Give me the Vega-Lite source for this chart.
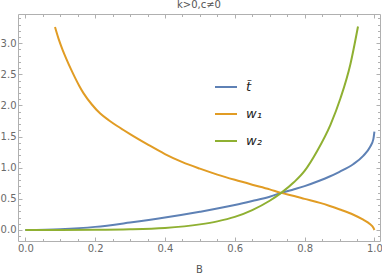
{
  "$schema": "https://vega.github.io/schema/vega-lite/v6.json",
  "width": 362,
  "height": 227,
  "autosize": {"type": "none"},
  "padding": {"left": 18, "top": 14, "right": 2, "bottom": 38},
  "title": {"text": "k>0,c≠0", "fontSize": 10, "font": "DejaVu Sans", "fontWeight": "normal", "color": "#555555", "offset": 3, "anchor": "middle"},
  "config": {
    "view": {"stroke": null},
    "axis": {
      "grid": false,
      "domainColor": "#b0b0b0",
      "tickColor": "#b0b0b0",
      "labelColor": "#6a6a6a",
      "labelFont": "DejaVu Sans",
      "labelFontSize": 10,
      "labelOverlap": false,
      "labelFlush": false,
      "titleFont": "DejaVu Sans",
      "titleFontSize": 10,
      "titleFontWeight": "normal",
      "titleColor": "#555555"
    }
  },
  "data": {"values": [
    {"s": "t̃", "B": 0.0, "v": 0.0},
    {"s": "t̃", "B": 0.1, "v": 0.013},
    {"s": "t̃", "B": 0.2, "v": 0.05},
    {"s": "t̃", "B": 0.3, "v": 0.12},
    {"s": "t̃", "B": 0.4, "v": 0.2},
    {"s": "t̃", "B": 0.5, "v": 0.293},
    {"s": "t̃", "B": 0.6, "v": 0.4},
    {"s": "t̃", "B": 0.65, "v": 0.465},
    {"s": "t̃", "B": 0.7, "v": 0.535},
    {"s": "t̃", "B": 0.733, "v": 0.596},
    {"s": "t̃", "B": 0.77, "v": 0.655},
    {"s": "t̃", "B": 0.8, "v": 0.705},
    {"s": "t̃", "B": 0.844, "v": 0.795},
    {"s": "t̃", "B": 0.87, "v": 0.855},
    {"s": "t̃", "B": 0.9, "v": 0.935},
    {"s": "t̃", "B": 0.94, "v": 1.06},
    {"s": "t̃", "B": 0.968, "v": 1.19},
    {"s": "t̃", "B": 0.987, "v": 1.33},
    {"s": "t̃", "B": 0.997, "v": 1.46},
    {"s": "t̃", "B": 1.0, "v": 1.58},
    {"s": "w₁", "B": 0.085, "v": 3.26},
    {"s": "w₁", "B": 0.0953, "v": 3.07},
    {"s": "w₁", "B": 0.107, "v": 2.89},
    {"s": "w₁", "B": 0.119, "v": 2.73},
    {"s": "w₁", "B": 0.131, "v": 2.58},
    {"s": "w₁", "B": 0.143, "v": 2.44},
    {"s": "w₁", "B": 0.155, "v": 2.31},
    {"s": "w₁", "B": 0.167, "v": 2.195},
    {"s": "w₁", "B": 0.19, "v": 2.02},
    {"s": "w₁", "B": 0.2146, "v": 1.87},
    {"s": "w₁", "B": 0.24, "v": 1.76},
    {"s": "w₁", "B": 0.262, "v": 1.675},
    {"s": "w₁", "B": 0.28, "v": 1.61},
    {"s": "w₁", "B": 0.3, "v": 1.54},
    {"s": "w₁", "B": 0.35, "v": 1.375},
    {"s": "w₁", "B": 0.4, "v": 1.22},
    {"s": "w₁", "B": 0.45, "v": 1.09},
    {"s": "w₁", "B": 0.5, "v": 0.985},
    {"s": "w₁", "B": 0.55, "v": 0.89},
    {"s": "w₁", "B": 0.6, "v": 0.806},
    {"s": "w₁", "B": 0.65, "v": 0.728},
    {"s": "w₁", "B": 0.7, "v": 0.653},
    {"s": "w₁", "B": 0.733, "v": 0.596},
    {"s": "w₁", "B": 0.77, "v": 0.545},
    {"s": "w₁", "B": 0.8, "v": 0.5},
    {"s": "w₁", "B": 0.844, "v": 0.435},
    {"s": "w₁", "B": 0.87, "v": 0.39},
    {"s": "w₁", "B": 0.901, "v": 0.33},
    {"s": "w₁", "B": 0.94, "v": 0.245},
    {"s": "w₁", "B": 0.968, "v": 0.165},
    {"s": "w₁", "B": 0.987, "v": 0.095},
    {"s": "w₁", "B": 0.997, "v": 0.035},
    {"s": "w₁", "B": 1.0, "v": 0.0},
    {"s": "w₂", "B": 0.0, "v": 0.0},
    {"s": "w₂", "B": 0.1, "v": 0.0},
    {"s": "w₂", "B": 0.2, "v": 0.002},
    {"s": "w₂", "B": 0.3, "v": 0.01},
    {"s": "w₂", "B": 0.4, "v": 0.033},
    {"s": "w₂", "B": 0.5, "v": 0.09},
    {"s": "w₂", "B": 0.55, "v": 0.138},
    {"s": "w₂", "B": 0.6, "v": 0.21},
    {"s": "w₂", "B": 0.65, "v": 0.32},
    {"s": "w₂", "B": 0.7, "v": 0.47},
    {"s": "w₂", "B": 0.733, "v": 0.596},
    {"s": "w₂", "B": 0.77, "v": 0.77},
    {"s": "w₂", "B": 0.8, "v": 0.95},
    {"s": "w₂", "B": 0.836, "v": 1.27},
    {"s": "w₂", "B": 0.874, "v": 1.69},
    {"s": "w₂", "B": 0.903, "v": 2.12},
    {"s": "w₂", "B": 0.931, "v": 2.66},
    {"s": "w₂", "B": 0.953, "v": 3.27}
  ]},
  "layer": [
    {
      "mark": {"type": "line", "strokeWidth": 2, "interpolate": "monotone", "clip": true},
      "encoding": {
        "x": {
          "field": "B", "type": "quantitative",
          "scale": {"domain": [-0.021, 1.016], "nice": false, "zero": false},
          "axis": {
            "orient": "bottom", "title": "B", "titlePadding": 10,
            "values": [0,0.05,0.1,0.15,0.2,0.25,0.3,0.35,0.4,0.45,0.5,0.55,0.6,0.65,0.7,0.75,0.8,0.85,0.9,0.95,1.0],
            "labelExpr": "abs(datum.value*5 - round(datum.value*5)) < 0.001 ? format(datum.value, '.1f') : ''",
            "tickSize": {"condition": {"test": "abs(datum.value*5 - round(datum.value*5)) < 0.001", "value": -4}, "value": -2.5},
            "labelPadding": 6
          }
        },
        "y": {
          "field": "v", "type": "quantitative",
          "scale": {"domain": [-0.177, 3.47], "nice": false, "zero": false},
          "axis": {
            "orient": "left", "title": null,
            "values": [-0.1,0,0.1,0.2,0.3,0.4,0.5,0.6,0.7,0.8,0.9,1.0,1.1,1.2,1.3,1.4,1.5,1.6,1.7,1.8,1.9,2.0,2.1,2.2,2.3,2.4,2.5,2.6,2.7,2.8,2.9,3.0,3.1,3.2,3.3,3.4],
            "labelExpr": "abs(datum.value*2 - round(datum.value*2)) < 0.001 ? format(datum.value, '.1f') : ''",
            "tickSize": {"condition": {"test": "abs(datum.value*2 - round(datum.value*2)) < 0.001", "value": -4}, "value": -2.5},
            "labelPadding": 6
          }
        },
        "color": {
          "field": "s", "type": "nominal",
          "scale": {"domain": ["t̃", "w₁", "w₂"], "range": ["#5E81B5", "#E19C24", "#8FB032"]},
          "legend": {
            "orient": "none", "legendX": 196, "legendY": 61, "title": null,
            "symbolType": "stroke", "symbolSize": 484, "symbolStrokeWidth": 2,
            "labelFont": "DejaVu Sans", "labelFontSize": 13, "labelFontStyle": "italic",
            "labelColor": "#222222", "labelOffset": 8, "rowPadding": 8
          }
        }
      }
    },
    {
      "mark": {"type": "line", "opacity": 0},
      "encoding": {
        "x": {
          "field": "B", "type": "quantitative",
          "axis": {
            "orient": "top", "title": null, "labels": false,
            "values": [0,0.05,0.1,0.15,0.2,0.25,0.3,0.35,0.4,0.45,0.5,0.55,0.6,0.65,0.7,0.75,0.8,0.85,0.9,0.95,1.0],
            "tickSize": {"condition": {"test": "abs(datum.value*5 - round(datum.value*5)) < 0.001", "value": -4}, "value": -2.5}
          }
        },
        "y": {
          "field": "v", "type": "quantitative",
          "axis": {
            "orient": "right", "title": null, "labels": false,
            "values": [-0.1,0,0.1,0.2,0.3,0.4,0.5,0.6,0.7,0.8,0.9,1.0,1.1,1.2,1.3,1.4,1.5,1.6,1.7,1.8,1.9,2.0,2.1,2.2,2.3,2.4,2.5,2.6,2.7,2.8,2.9,3.0,3.1,3.2,3.3,3.4],
            "tickSize": {"condition": {"test": "abs(datum.value*2 - round(datum.value*2)) < 0.001", "value": -4}, "value": -2.5}
          }
        },
        "detail": {"field": "s", "type": "nominal"}
      }
    }
  ],
  "resolve": {"axis": {"x": "independent", "y": "independent"}}
}
